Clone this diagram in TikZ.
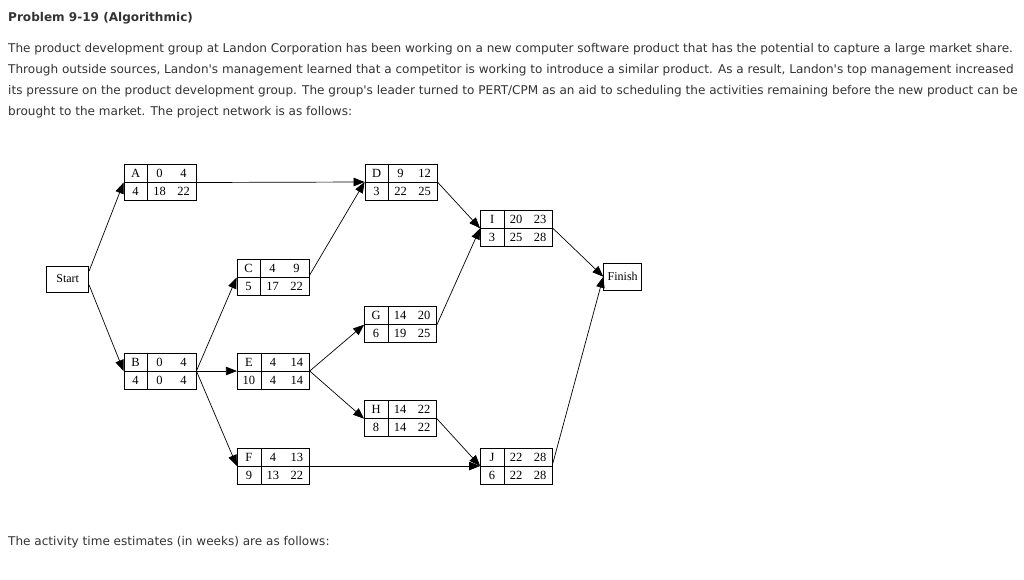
\documentclass[tikz,border=0pt]{standalone}
\usepackage{fontspec}
\setmainfont{DejaVu Sans}
\newfontfamily\boxfont{Liberation Serif}
\usetikzlibrary{arrows.meta,calc}
\definecolor{txt}{HTML}{333333}
\tikzset{
  para/.style={anchor=base west,inner sep=0pt,text=txt,font=\fontsize{12.05}{14}\selectfont},
  pbox/.style={draw,line width=0.8pt,minimum width=72pt,minimum height=36pt,inner sep=0pt},
  endbox/.style={draw,line width=0.8pt,inner sep=0pt,font=\boxfont\fontsize{12}{13}\selectfont},
  num/.style={inner sep=0pt,font=\boxfont\fontsize{12.5}{13}\selectfont},
  arr/.style={line width=0.7pt,-{Triangle[length=11pt,width=8.5pt]}},
  cell/.style={line width=0.8pt}
}
\newcommand{\actbox}[9]{%
  \node[pbox] (#1) at (#2,#3) {};
  \draw[cell] ($(#1.north west)+(24,0)$) -- ($(#1.south west)+(24,0)$);
  \draw[cell] (#1.west) -- (#1.east);
  \node[num] at ($(#1.west)+(12,-9)$) {#4};
  \node[num] at ($(#1.west)+(12,9)$) {#5};
  \node[num] at ($(#1.west)+(36,-9)$) {#6};
  \node[num] at ($(#1.west)+(60,-9)$) {#7};
  \node[num] at ($(#1.west)+(36,9)$) {#8};
  \node[num] at ($(#1.west)+(60,9)$) {#9};
}
\begin{document}
\begin{tikzpicture}[x=1pt,y=-1pt]
\useasboundingbox (0,0) rectangle (1024,579);
\node[para,font=\bfseries\fontsize{12.05}{14}\selectfont] (title) at (8,21.5) {Problem 9-19 (Algorithmic)};
\node[para] (l1) at (8,52.5) {The product development group at Landon Corporation has been working on a new computer software product that has the potential to capture a large market share.};
\node[para] (l2) at (8,73.5) {Through outside sources, Landon\textquotesingle s management learned that a competitor is working to introduce a similar product. As a result, Landon\textquotesingle s top management increased};
\node[para] (l3) at (8,94.5) {its pressure on the product development group. The group\textquotesingle s leader turned to PERT/CPM as an aid to scheduling the activities remaining before the new product can be};
\node[para] (l4) at (8,115.5) {brought to the market. The project network is as follows:};
\node[para] (l5) at (8,545.5) {The activity time estimates (in weeks) are as follows:};

\node[endbox,minimum width=42pt,minimum height=26pt] (Start) at (67.7,279) {Start};
\node[endbox,minimum width=38pt,minimum height=27pt] (Finish) at (622.7,276.7) {Finish};

\actbox{A}{160}{182.5}{A}{4}{0}{4}{18}{22}
\actbox{D}{401}{182}{D}{3}{9}{12}{22}{25}
\actbox{I}{516.5}{228.3}{I}{3}{20}{23}{25}{28}
\actbox{C}{273}{277.5}{C}{5}{4}{9}{17}{22}
\actbox{B}{160}{371}{B}{4}{0}{4}{0}{4}
\actbox{E}{273.3}{371}{E}{10}{4}{14}{4}{14}
\actbox{G}{400.5}{324.7}{G}{6}{14}{20}{19}{25}
\actbox{H}{400.5}{418.7}{H}{8}{14}{22}{14}{22}
\actbox{F}{273.3}{466}{F}{9}{4}{13}{13}{22}
\actbox{J}{516.5}{466}{J}{6}{22}{28}{22}{28}

\draw[arr] ([yshift=8pt]Start.east) -- (A.west);
\draw[arr] ([yshift=-6pt]Start.east) -- (B.west);
\draw[arr] (A.east) -- (D.west);
\draw[arr] ([yshift=2pt]C.east) -- (D.west);
\draw[arr] (D.east) -- (I.west);
\draw[arr] (I.east) -- (Finish.west);
\draw[arr] (B.east) -- (C.west);
\draw[arr] (B.east) -- (E.west);
\draw[arr] (B.east) -- (F.west);
\draw[arr] (E.east) -- (G.west);
\draw[arr] (E.east) -- (H.west);
\draw[arr] (G.east) -- (I.west);
\draw[arr] (H.east) -- (J.west);
\draw[arr] (F.east) -- (J.west);
\draw[arr] ([yshift=3pt]J.east) -- (Finish.west);
\end{tikzpicture}
\end{document}
